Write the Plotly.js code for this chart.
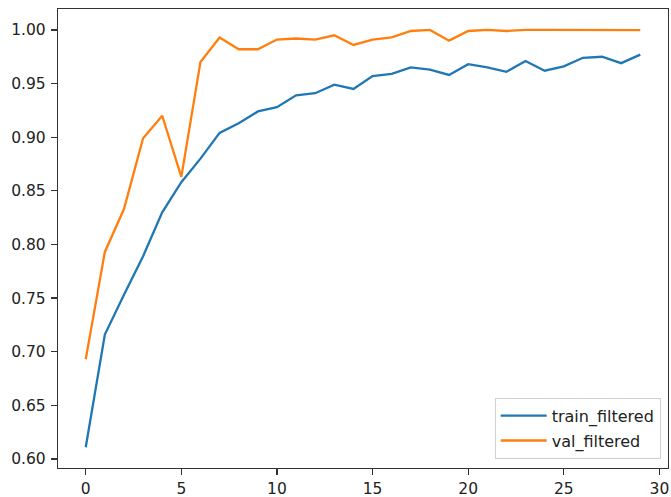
<!DOCTYPE html>
<html>
<head>
<meta charset="utf-8">
<script src="https://cdn.plot.ly/plotly-3.0.1.min.js"></script>
<style>
  html, body { margin: 0; padding: 0; background: #fff; }
  #chart { width: 671px; height: 497px; }
</style>
</head>
<body>
<div id="chart"></div>
<script>
const epochs = [0,1,2,3,4,5,6,7,8,9,10,11,12,13,14,15,16,17,18,19,20,21,22,23,24,25,26,27,28,29];
const trainFiltered = [0.611,0.716,0.753,0.789,0.830,0.858,0.880,0.904,0.913,0.924,0.928,0.939,0.941,0.949,0.945,0.957,0.959,0.965,0.963,0.958,0.968,0.965,0.961,0.971,0.962,0.966,0.974,0.975,0.969,0.977];
const valFiltered = [0.693,0.793,0.833,0.899,0.920,0.863,0.970,0.993,0.982,0.982,0.991,0.992,0.991,0.995,0.986,0.991,0.993,0.999,1.000,0.990,0.999,1.000,0.999,1.000,1.000,1.000,0.9995,1.000,1.000,0.9998];
const seriesNames = ["train_filtered", "val_filtered"];
const xTicks = [0,5,10,15,20,25,30];
const yTicks = [0.60,0.65,0.70,0.75,0.80,0.85,0.90,0.95,1.00];

const font = {family: "DejaVu Sans, sans-serif", size: 15.5, color: "#222"};

const traces = [
  {x: epochs, y: trainFiltered, name: seriesNames[0], legendgroup: "a", mode: "lines",
   line: {color: "#1f77b4", width: 2.3}},
  {x: epochs, y: valFiltered, name: seriesNames[1], legendgroup: "b", mode: "lines",
   line: {color: "#ff7f0e", width: 2.3}}
];

const axisCommon = {
  showgrid: false, zeroline: false, showline: true, mirror: true,
  linecolor: "#333", linewidth: 1.2,
  ticks: "outside", ticklen: 6, tickwidth: 1.2, tickcolor: "#333",
  tickfont: font
};

const layout = {
  width: 671, height: 497,
  margin: {l: 58, r: 3, t: 9, b: 29},
  paper_bgcolor: "#fff", plot_bgcolor: "#fff",
  font: font,
  showlegend: true,
  legend: {
    x: 0.988, y: 0.02, xanchor: "right", yanchor: "bottom",
    bgcolor: "rgba(255,255,255,0.8)", bordercolor: "#d0d0d0", borderwidth: 1,
    font: {family: "DejaVu Sans, sans-serif", size: 16, color: "#222"},
    itemwidth: 46,
    tracegroupgap: 1
  },
  xaxis: Object.assign({}, axisCommon, {
    range: [-1.45, 30.45], tickvals: xTicks, ticktext: xTicks.map(String)
  }),
  yaxis: Object.assign({}, axisCommon, {
    range: [0.5916, 1.0195], tickvals: yTicks, ticktext: yTicks.map(v => v.toFixed(2)),
    ticklabelstandoff: 2
  })
};

Plotly.newPlot("chart", traces, layout, {displayModeBar: false, staticPlot: true});
</script>
</body>
</html>
